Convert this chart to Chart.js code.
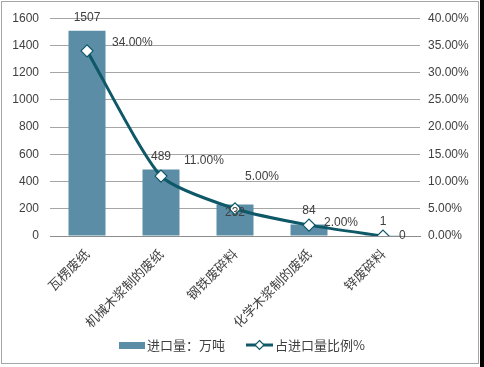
<!DOCTYPE html>
<html><head><meta charset="utf-8">
<script src="https://cdn.jsdelivr.net/npm/chart.js@4"></script>
<style>html,body{margin:0;padding:0;background:#fff;}#wrap{width:484px;height:367px;position:relative}</style>
</head><body><div id="wrap"><canvas id="c" width="484" height="367"></canvas></div>
<script>
const categories = ['瓦楞废纸', '机械木浆制的废纸', '钢铁废碎料', '化学木浆制的废纸', '锌废碎料'];
const importVolume = [1507, 489, 232, 84, 1];
const importShare = [34, 11, 5, 2, 0];
const shareLabels = ['34.00%', '11.00%', '5.00%', '2.00%', '0'];
const seriesNames = ['进口量：万吨', '占进口量比例%'];
const leftAxis = { min: 0, max: 1600, step: 200 };
const rightAxis = { min: 0, max: 40, step: 5 };

const BAR = '#5b8ea6', LINE = '#0e5868', TXT = '#404040';
const NUM_FONT = '12px "Liberation Sans", Arial, sans-serif';
const CJK = '"Noto Sans CJK SC", sans-serif';

// label placement style (pixel offsets relative to the mark)
const barLabelDy = [-13, -13, 8, -14, -14];
const lineLabelOff = [[25, -8], [23, -15], [10, -32], [15, -2], [16, 0]];

const labelsPlugin = {
  id: 'labels',
  afterDatasetsDraw(chart) {
    const ctx = chart.ctx;
    ctx.save();
    ctx.font = NUM_FONT; ctx.fillStyle = TXT; ctx.textBaseline = 'middle';
    const bm = chart.getDatasetMeta(0);
    bm.data.forEach((el, i) => {
      ctx.textAlign = 'center';
      ctx.fillText(String(importVolume[i]), el.x, el.y + barLabelDy[i]);
    });
    const lm = chart.getDatasetMeta(1);
    lm.data.forEach((el, i) => {
      ctx.textAlign = 'left';
      ctx.fillText(shareLabels[i], el.x + lineLabelOff[i][0], el.y + lineLabelOff[i][1]);
    });
    ctx.restore();
  },
  afterDraw(chart) {
    const ctx = chart.ctx;
    ctx.save();
    // legend
    const y = 345;
    ctx.fillStyle = BAR;
    ctx.fillRect(119, y - 3, 26, 7);
    ctx.font = '13px ' + CJK; ctx.fillStyle = TXT; ctx.textBaseline = 'middle'; ctx.textAlign = 'left';
    ctx.fillText(seriesNames[0], 147, y);
    ctx.strokeStyle = LINE; ctx.lineWidth = 3;
    ctx.beginPath(); ctx.moveTo(246, y); ctx.lineTo(273, y); ctx.stroke();
    ctx.fillStyle = '#fff'; ctx.lineWidth = 1.2;
    ctx.beginPath(); ctx.moveTo(259.5, y - 4.5); ctx.lineTo(264, y); ctx.lineTo(259.5, y + 4.5); ctx.lineTo(255, y); ctx.closePath();
    ctx.fill(); ctx.stroke();
    ctx.fillStyle = TXT;
    ctx.fillText(seriesNames[1], 275, y);
    // frame
    ctx.strokeStyle = '#a6a6a6'; ctx.lineWidth = 1;
    ctx.strokeRect(1.5, 1.5, 477, 362);
    ctx.fillStyle = '#000';
    ctx.fillRect(480, 0, 4, 367);
    ctx.restore();
  }
};

new Chart(document.getElementById('c'), {
  data: {
    labels: categories,
    datasets: [
      { type: 'bar', label: seriesNames[0], data: importVolume, backgroundColor: BAR, yAxisID: 'y', order: 1,
        categoryPercentage: 1, barPercentage: 0.5 },
      { type: 'line', label: seriesNames[1], data: importShare, yAxisID: 'y1', order: 0,
        borderColor: LINE, borderWidth: 3, tension: 0.2, pointStyle: 'rectRot', pointRadius: 6,
        pointBackgroundColor: '#fff', pointBorderColor: LINE, pointBorderWidth: 1.2 }
    ]
  },
  options: {
    responsive: false, devicePixelRatio: 1, animation: false,
    layout: { padding: { top: 17, left: 0, right: 0, bottom: 0 } },
    plugins: { legend: { display: false }, tooltip: { enabled: false } },
    scales: {
      x: {
        grid: { display: false },
        border: { display: true, color: '#8c8c8c' },
        ticks: { font: { family: CJK, size: 13 }, color: TXT, minRotation: 45, maxRotation: 45, padding: 2 },
        afterFit(s) { s.height = 131; }
      },
      y: {
        position: 'left', min: leftAxis.min, max: leftAxis.max,
        ticks: { stepSize: leftAxis.step, font: { family: '"Liberation Sans", Arial', size: 12 }, color: TXT, padding: 11,
          callback: v => String(v) },
        grid: { color: '#a6a6a6', drawTicks: false },
        border: { display: false },
        afterFit(s) { s.width = 50; }
      },
      y1: {
        position: 'right', min: rightAxis.min, max: rightAxis.max,
        ticks: { stepSize: rightAxis.step, font: { family: '"Liberation Sans", Arial', size: 12 }, color: TXT, padding: 8,
          callback: v => v.toFixed(2) + '%' },
        grid: { drawOnChartArea: false, drawTicks: false },
        border: { display: false },
        afterFit(s) { s.width = 64; }
      }
    }
  },
  plugins: [labelsPlugin]
});
</script></body></html>
